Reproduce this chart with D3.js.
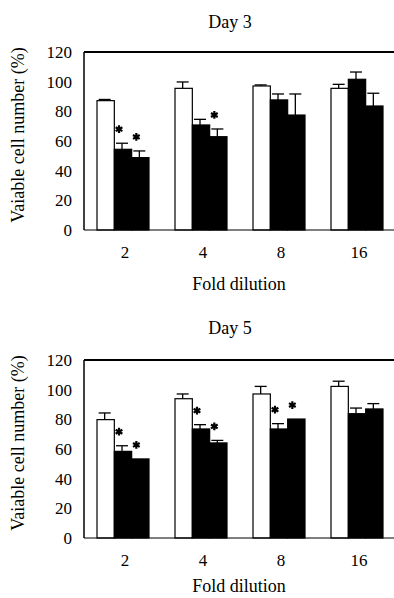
<!DOCTYPE html>
<html>
<head>
<meta charset="utf-8">
<script src="https://cdn.jsdelivr.net/npm/d3@7"></script>
<style>
  html, body { margin: 0; padding: 0; background: #fff; }
  svg { display: block; }
  text { font-family: "Liberation Serif", "Times New Roman", serif; fill: #000; }
</style>
</head>
<body>
<div id="chart"></div>
<script>
// categories (fold dilution) and series
const categories = ['2', '4', '8', '16'];
const seriesKeys = ['control', 'treatA', 'treatB'];
const yTicks = [0, 20, 40, 60, 80, 100, 120];

// Day 3
const day3Control = [87.2, 95.5, 97.1, 95.5];
const day3TreatA = [54.4, 70.8, 87.7, 101.6];
const day3TreatB = [48.8, 62.9, 77.5, 83.6];
const day3ControlErr = [0.8, 4.3, 0.7, 2.7];
const day3TreatAErr = [4.1, 3.8, 4.0, 4.9];
const day3TreatBErr = [4.5, 5.2, 14.2, 8.6];
const day3StarA = [true, false, false, false];
const day3StarB = [true, true, false, false];

// Day 5
const day5Control = [79.8, 93.9, 97.1, 102.2];
const day5TreatA = [58.4, 73.5, 73.5, 83.8];
const day5TreatB = [53.3, 64.1, 80.2, 87.0];
const day5ControlErr = [4.5, 3.2, 5.1, 3.5];
const day5TreatAErr = [3.8, 2.9, 3.6, 3.8];
const day5TreatBErr = [0, 1.7, 0, 3.6];
const day5StarA = [true, true, true, false];
const day5StarB = [true, true, true, false];

const W = 394, H = 598;
const left = 84, right = 396;

const svg = d3.select('#chart').append('svg').attr('width', W).attr('height', H);

function buildRows(values, errs, stars) {
  const rows = [];
  categories.forEach((c, i) => {
    seriesKeys.forEach((k, j) => {
      rows.push({ cat: c, key: k, value: values[j][i], err: errs[j][i], star: stars[j] ? stars[j][i] : false });
    });
  });
  return rows;
}

const panels = [
  {
    title: 'Day 3', titleY: 22, top: 52, bottom: 230, xTitleY: 284,
    rows: buildRows([day3Control, day3TreatA, day3TreatB], [day3ControlErr, day3TreatAErr, day3TreatBErr], [null, day3StarA, day3StarB]),
  },
  {
    title: 'Day 5', titleY: 328, top: 360, bottom: 538, xTitleY: 586,
    rows: buildRows([day5Control, day5TreatA, day5TreatB], [day5ControlErr, day5TreatAErr, day5TreatBErr], [null, day5StarA, day5StarB]),
  },
];

const x0 = d3.scaleBand().domain(categories).range([left, right]).paddingInner(1 / 3).paddingOuter(1 / 6);
const x1 = d3.scaleBand().domain(seriesKeys).range([0, x0.bandwidth()]);
const fill = d3.scaleOrdinal().domain(seriesKeys).range(['#fff', '#000', '#000']);

function drawPanel(p) {
  const y = d3.scaleLinear().domain([0, 120]).range([p.bottom, p.top]);
  const g = svg.append('g');

  // title
  g.append('text')
    .attr('x', 230).attr('y', p.titleY)
    .attr('dy', '0.35em')
    .attr('text-anchor', 'middle')
    .style('font-size', '18px')
    .text(p.title);

  // y axis labels
  const yAxis = g.append('g')
    .attr('transform', `translate(${left},0)`)
    .call(d3.axisLeft(y).tickValues(yTicks).tickSize(0).tickPadding(12));
  yAxis.select('.domain').remove();
  yAxis.selectAll('text').style('font-size', '17px').style('font-family', '"Liberation Serif", serif');

  // x axis labels
  const xAxis = g.append('g')
    .attr('transform', `translate(0,${p.bottom})`)
    .call(d3.axisBottom(x0).tickSize(0).tickPadding(16));
  xAxis.select('.domain').remove();
  xAxis.selectAll('text').attr('dx', 2).style('font-size', '17px').style('font-family', '"Liberation Serif", serif');

  // y title
  g.append('text')
    .attr('transform', `translate(24,${(p.top + p.bottom) / 2 - 6}) rotate(-90)`)
    .attr('text-anchor', 'middle')
    .style('font-size', '18px')
    .text('Vaiable cell number (%)');

  // x title
  g.append('text')
    .attr('x', 239).attr('y', p.xTitleY)
    .attr('dy', '0.35em')
    .attr('text-anchor', 'middle')
    .style('font-size', '18px')
    .text('Fold dilution');

  const bx = (d) => x0(d.cat) + x1(d.key);

  // bars
  g.selectAll('rect.bar')
    .data(p.rows)
    .enter()
    .append('rect')
    .attr('class', 'bar')
    .attr('x', bx)
    .attr('y', (d) => y(d.value))
    .attr('width', x1.bandwidth())
    .attr('height', (d) => y(0) - y(d.value))
    .attr('fill', (d) => fill(d.key))
    .attr('stroke', '#000')
    .attr('stroke-width', 1.2);

  // error bars (upper only)
  const eb = g.selectAll('g.err')
    .data(p.rows.filter((d) => d.err > 0))
    .enter()
    .append('g')
    .attr('class', 'err')
    .attr('stroke', '#000')
    .attr('stroke-width', 1.3);
  eb.append('line')
    .attr('x1', (d) => bx(d) + x1.bandwidth() / 2 - 1)
    .attr('x2', (d) => bx(d) + x1.bandwidth() / 2 - 1)
    .attr('y1', (d) => y(d.value))
    .attr('y2', (d) => y(d.value + d.err));
  eb.append('line')
    .attr('x1', (d) => bx(d) + x1.bandwidth() / 2 - 7)
    .attr('x2', (d) => bx(d) + x1.bandwidth() / 2 + 5)
    .attr('y1', (d) => y(d.value + d.err))
    .attr('y2', (d) => y(d.value + d.err));

  // significance stars
  const star = d3.symbol().type(d3.symbolAsterisk).size(42);
  g.selectAll('path.star')
    .data(p.rows.filter((d) => d.star))
    .enter()
    .append('path')
    .attr('class', 'star')
    .attr('d', star)
    .attr('transform', (d) => `translate(${bx(d) + x1.bandwidth() / 2 - 4},${y(d.value + d.err) - 14})`)
    .attr('fill', 'none')
    .attr('stroke', '#000')
    .attr('stroke-width', 2.2);

  // frame
  g.append('line').attr('x1', left).attr('x2', right).attr('y1', p.top).attr('y2', p.top)
    .attr('stroke', '#000').attr('stroke-width', 2);
  g.append('line').attr('x1', left).attr('x2', left).attr('y1', p.top).attr('y2', p.bottom)
    .attr('stroke', '#000').attr('stroke-width', 1.5);
  g.append('line').attr('x1', left).attr('x2', right).attr('y1', p.bottom).attr('y2', p.bottom)
    .attr('stroke', '#000').attr('stroke-width', 1.2);
}

panels.forEach(drawPanel);
</script>
</body>
</html>
